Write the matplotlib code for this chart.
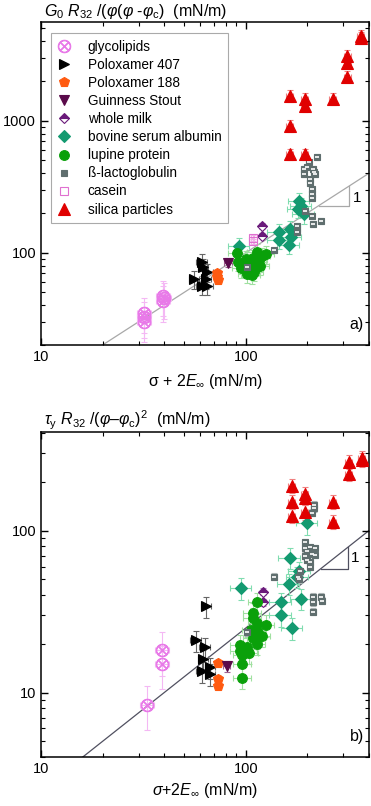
import matplotlib
matplotlib.use("Agg")
import matplotlib.pyplot as plt
from matplotlib.ticker import FuncFormatter, NullFormatter
import numpy as np

plt.rcParams["font.family"] = ["Liberation Sans", "DejaVu Sans"]
plt.rcParams["mathtext.fontset"] = "custom"
plt.rcParams["mathtext.rm"] = "Liberation Sans"
plt.rcParams["mathtext.it"] = "Liberation Sans:italic"
plt.rcParams["mathtext.bf"] = "Liberation Sans:bold"

# --- data, panel a (G0) ---
glyco_a_x = [32, 32, 32, 39.5, 39.5, 40]
glyco_a_y = [35, 30, 32.5, 47, 43, 45]
p407_a_x = [61, 62, 65, 56, 64, 61, 65]
p407_a_y = [85, 78, 71, 63, 63, 56, 56]
p188_a_x = [72, 72, 73]
p188_a_y = [70, 66, 62]
guin_a_x = [82]
guin_a_y = [84]
milk_a_x = [120, 120]
milk_a_y = [160, 135]
bsa_a_x = [93, 145, 145, 165, 167, 162, 182, 180, 192, 186]
bsa_a_y = [112, 144, 125, 152, 132, 115, 248, 215, 195, 225]
lup_a_x = [91, 92, 95, 102, 105, 108, 113, 114, 120, 125, 112, 104, 110, 118, 100, 116, 109, 107]
lup_a_y = [100, 85, 76, 69, 77, 91, 102, 85, 95, 97, 78, 85, 72, 80, 90, 88, 83, 68]
blg_a_x = [222, 203, 192, 192, 213, 217, 205, 210, 210, 210, 195, 210, 212, 232, 178, 178, 138, 102, 200, 215, 205]
blg_a_y = [530, 490, 430, 395, 430, 395, 365, 305, 280, 258, 208, 190, 166, 175, 160, 144, 104, 78, 450, 410, 340]
cas_a_x = [108, 108]
cas_a_y = [130, 122]
sil_a_x = [164, 194, 194, 266, 314, 314, 314, 364, 364, 164, 164, 194]
sil_a_y = [1550, 1470, 1300, 1470, 3100, 2750, 2150, 4400, 4250, 920, 560, 560]

# --- data, panel b (tau_y) ---
glyco_b_x = [39, 39, 33]
glyco_b_y = [18.2, 15, 8.4]
p407_b_x = [64, 57, 63, 62, 61, 67, 67]
p407_b_y = [34, 21, 19, 16, 13.5, 14.3, 13]
p188_b_x = [73, 73, 73]
p188_b_y = [15.2, 12.2, 11]
guin_b_x = [81]
guin_b_y = [14.5]
milk_b_x = [121, 121]
milk_b_y = [42, 36]
bsa_b_x = [95, 199, 164, 183, 179, 162, 186, 148, 148, 169]
bsa_b_y = [44, 111, 68, 56, 52, 47, 38, 36, 30, 25]
lup_b_x = [114, 108, 108, 114, 125, 106, 108, 114, 120, 113, 102, 93.5, 93.5, 96, 104, 96, 96, 113]
lup_b_y = [36, 31, 29, 27, 26, 24.4, 21.7, 22, 22.4, 20, 19.1, 19.7, 18, 17, 17.6, 15, 12.3, 24.4]
blg_b_x = [215, 215, 210, 194, 194, 207, 217, 217, 194, 199, 207, 205, 185, 181, 183, 138, 213, 232, 213, 213, 235, 102, 200, 210]
blg_b_y = [144, 138, 129, 85, 78, 79, 78, 71, 70, 66, 64, 60, 56, 52, 50, 52, 39, 39, 36, 31.5, 37, 23.5, 75, 72]
cas_b_x = []
cas_b_y = []
sil_b_x = [168, 168, 168, 194, 194, 194, 266, 266, 318, 318, 368, 368]
sil_b_y = [189, 150, 123, 169, 159, 130, 150, 113, 265, 224, 281, 273]

labels = ["glycolipids", "Poloxamer 407", "Poloxamer 188", "Guinness Stout", "whole milk",
          "bovine serum albumin", "lupine protein", "ß-lactoglobulin", "casein", "silica particles"]
# relative errors (x, y) per series
rel_xerr = [0.08, 0.06, 0.03, 0.04, 0.02, 0.12, 0.10, 0.03, 0.02, 0.04]
rel_yerr = [0.30, 0.15, 0.05, 0.08, 0.05, 0.15, 0.15, 0.05, 0.05, 0.10]

panel_a = [(glyco_a_x, glyco_a_y), (p407_a_x, p407_a_y), (p188_a_x, p188_a_y), (guin_a_x, guin_a_y),
           (milk_a_x, milk_a_y), (bsa_a_x, bsa_a_y), (lup_a_x, lup_a_y), (blg_a_x, blg_a_y),
           (cas_a_x, cas_a_y), (sil_a_x, sil_a_y)]
panel_b = [(glyco_b_x, glyco_b_y), (p407_b_x, p407_b_y), (p188_b_x, p188_b_y), (guin_b_x, guin_b_y),
           (milk_b_x, milk_b_y), (bsa_b_x, bsa_b_y), (lup_b_x, lup_b_y), (blg_b_x, blg_b_y),
           (cas_b_x, cas_b_y), (sil_b_x, sil_b_y)]

styles = [
    dict(marker=r"$\otimes$", color="#e87ae8", mfc="#e87ae8", ms=9, ecolor="#f4b8f4"),
    dict(marker=">", color="black", mfc="black", ms=7.5, ecolor="#666666"),
    dict(marker="p", color="#ff5a10", mfc="#ff5a10", ms=7, ecolor="#ffb080"),
    dict(marker="v", color="#5a0a4a", mfc="#5a0a4a", ms=7, ecolor="#a06090"),
    dict(marker="D", color="#6a1a7a", mfc="#6a1a7a", ms=5.5, ecolor="#b080c0",
         fillstyle="top", mfcalt="white"),
    dict(marker="D", color="#139a70", mfc="#139a70", ms=6.5, ecolor="#80dcb0"),
    dict(marker="o", color="#0aa00a", mfc="#0aa00a", ms=7, ecolor="#a0e0a0"),
    dict(marker="s", color="#5f6e6e", mfc="#5f6e6e", ms=5, ecolor="#b0b8b8"),
    dict(marker="s", color="#e070d0", mfc="none", ms=6, ecolor="#f0b0e8"),
    dict(marker="^", color="#e00000", mfc="#e00000", ms=8, ecolor="#f08080"),
]

fig = plt.figure(figsize=(3.71, 8.06), dpi=100)
ax_a = fig.add_axes([0.1105, 0.572, 0.884, 0.4007])
ax_b = fig.add_axes([0.1105, 0.0608, 0.884, 0.4032])


def draw(ax, data):
    handles = []
    for i, (xs, ys) in enumerate(data):
        st = styles[i]
        x = np.array(xs, dtype=float)
        y = np.array(ys, dtype=float)
        extra = {}
        if "fillstyle" in st:
            extra = dict(fillstyle=st["fillstyle"], markerfacecoloralt=st["mfcalt"])
        if len(x):
            ax.errorbar(x, y, xerr=x * rel_xerr[i], yerr=y * rel_yerr[i], fmt="none",
                        ecolor=st["ecolor"], elinewidth=0.8, capsize=2, capthick=0.8, zorder=2)
        h, = ax.plot(x, y, ls="none", marker=st["marker"], color=st["color"],
                     mfc=st["mfc"], mec=st["color"], ms=st["ms"], mew=0.8,
                     label=labels[i], zorder=3, **extra)
        if i == 7 and len(x):
            ax.plot(x, y, ls="none", marker="_", color="white", ms=3, mew=1.2, zorder=4)
        handles.append(h)
    return handles


plain = FuncFormatter(lambda v, p: f"{v:g}")


def style_axes(ax, ylim):
    ax.set_xscale("log")
    ax.set_yscale("log")
    ax.set_xlim(10, 400)
    ax.set_ylim(*ylim)
    for axis in (ax.xaxis, ax.yaxis):
        axis.set_major_formatter(plain)
        axis.set_minor_formatter(NullFormatter())
    ax.tick_params(which="both", direction="in", top=True, right=True, labelsize=10.5)
    ax.tick_params(which="major", length=5, width=1)
    ax.tick_params(which="minor", length=3, width=0.8)
    for sp in ax.spines.values():
        sp.set_linewidth(1.1)


handles = draw(ax_a, panel_a)
style_axes(ax_a, (20, 5600))
xl = np.array([10, 400])
ax_a.plot(xl, xl, color="#a8a8a8", lw=0.9, zorder=1)
ax_a.plot([227, 321, 321], [227, 227, 321], color="#a8a8a8", lw=0.9, zorder=1)
ax_a.text(335, 262, "1", fontsize=11, va="center", ha="left")
ax_a.text(0.985, 0.04, "a)", transform=ax_a.transAxes, ha="right", va="bottom", fontsize=11.5)
ax_a.set_xlabel(r"σ + 2$E_{\infty}$ (mN/m)", fontsize=11.5, labelpad=6)
ax_a.set_title(r"$G_0\ R_{32}\ /(\varphi(\varphi\ \text{-}\varphi_{\rm c})$  (mN/m)",
               fontsize=11.5, loc="left", x=0.01, pad=4)
leg = ax_a.legend(handles=handles, loc="upper left", bbox_to_anchor=(0.03, 0.966),
                  borderaxespad=0, fontsize=9.8, labelspacing=0.3, handlelength=1.0,
                  handletextpad=1.2, borderpad=0.5, fancybox=False, framealpha=1,
                  edgecolor="#aaaaaa")
leg.get_frame().set_linewidth(0.8)

draw(ax_b, panel_b)
style_axes(ax_b, (4, 406))
ax_b.plot(xl, xl / 4, color="#505060", lw=0.9, zorder=1)
ax_b.plot([232, 315, 315], [58, 58, 78.7], color="#505060", lw=0.9, zorder=1)
ax_b.text(327, 68, "1", fontsize=11, va="center", ha="left")
ax_b.text(0.985, 0.04, "b)", transform=ax_b.transAxes, ha="right", va="bottom", fontsize=11.5)
ax_b.set_xlabel(r"$\sigma$+2$E_{\infty}$ (mN/m)", fontsize=11.5, labelpad=4)
ax_b.set_title(r"$\tau_{\rm y}\ R_{32}\ /(\varphi$–$\varphi_{\rm c})^2$  (mN/m)",
               fontsize=11.5, loc="left", x=0.01, pad=4)

fig.savefig("out.png", dpi=100)
